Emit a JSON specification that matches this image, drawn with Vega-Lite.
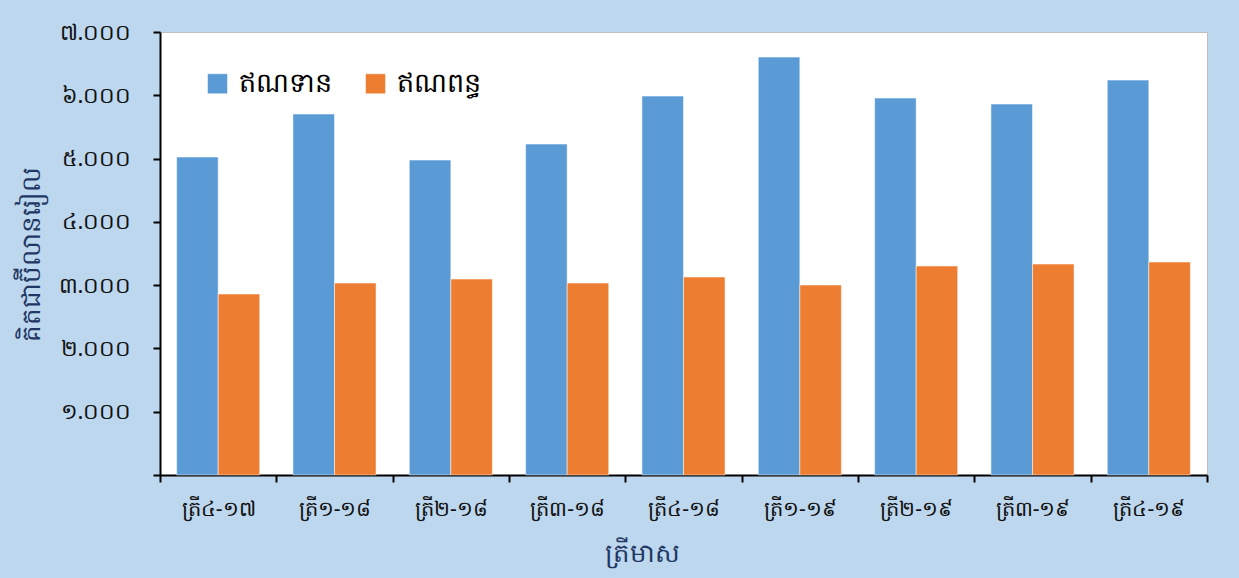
{
  "$schema": "https://vega.github.io/schema/vega-lite/v6.json",
  "autosize": "none",
  "width": 1047,
  "height": 443,
  "padding": {"left": 160, "top": 32, "right": 32, "bottom": 103},
  "background": "#BDD7EE",
  "data": {
    "values": [
      {"quarter": "ត្រី៤-១៧", "series": "ឥណទាន", "value": 5024},
      {"quarter": "ត្រី៤-១៧", "series": "ឥណពន្ធ", "value": 2860},
      {"quarter": "ត្រី១-១៨", "series": "ឥណទាន", "value": 5703},
      {"quarter": "ត្រី១-១៨", "series": "ឥណពន្ធ", "value": 3033},
      {"quarter": "ត្រី២-១៨", "series": "ឥណទាន", "value": 4976},
      {"quarter": "ត្រី២-១៨", "series": "ឥណពន្ធ", "value": 3096},
      {"quarter": "ត្រី៣-១៨", "series": "ឥណទាន", "value": 5229},
      {"quarter": "ត្រី៣-១៨", "series": "ឥណពន្ធ", "value": 3033},
      {"quarter": "ត្រី៤-១៨", "series": "ឥណទាន", "value": 5987},
      {"quarter": "ត្រី៤-១៨", "series": "ឥណពន្ធ", "value": 3128},
      {"quarter": "ត្រី១-១៩", "series": "ឥណទាន", "value": 6603},
      {"quarter": "ត្រី១-១៩", "series": "ឥណពន្ធ", "value": 3002},
      {"quarter": "ត្រី២-១៩", "series": "ឥណទាន", "value": 5956},
      {"quarter": "ត្រី២-១៩", "series": "ឥណពន្ធ", "value": 3302},
      {"quarter": "ត្រី៣-១៩", "series": "ឥណទាន", "value": 5861},
      {"quarter": "ត្រី៣-១៩", "series": "ឥណពន្ធ", "value": 3333},
      {"quarter": "ត្រី៤-១៩", "series": "ឥណទាន", "value": 6240},
      {"quarter": "ត្រី៤-១៩", "series": "ឥណពន្ធ", "value": 3365}
    ]
  },
  "mark": "bar",
  "encoding": {
    "x": {
      "field": "quarter",
      "type": "nominal",
      "sort": null,
      "title": "ត្រីមាស",
      "scale": {"paddingInner": 0, "paddingOuter": 0},
      "axis": {
        "tickBand": "extent",
        "labelAngle": 0,
        "labelPadding": 16,
        "labelFontSize": 21,
        "titleX": 482,
        "titleY": 78,
        "titleBaseline": "middle"
      }
    },
    "xOffset": {
      "field": "series",
      "type": "nominal",
      "sort": ["ឥណទាន", "ឥណពន្ធ"],
      "scale": {"paddingInner": 0, "paddingOuter": 0.4}
    },
    "y": {
      "field": "value",
      "type": "quantitative",
      "title": "គិតជាប៊ីលានរៀល",
      "scale": {"domain": [0, 7000]},
      "axis": {
        "values": [0, 1000, 2000, 3000, 4000, 5000, 6000, 7000],
        "grid": false,
        "labelPadding": 22,
        "labelFontSize": 22,
        "titlePadding": 14,
        "labelExpr": "['', '១.០០០', '២.០០០', '៣.០០០', '៤.០០០', '៥.០០០', '៦.០០០', '៧.០០០'][round(datum.value / 1000)]"
      }
    },
    "color": {
      "field": "series",
      "type": "nominal",
      "title": null,
      "scale": {"domain": ["ឥណទាន", "ឥណពន្ធ"], "range": ["#5B9BD5", "#ED7D31"]},
      "legend": {
        "orient": "none",
        "legendX": 44,
        "legendY": 38,
        "direction": "horizontal",
        "symbolType": "square",
        "symbolSize": 400,
        "symbolStrokeWidth": 0,
        "labelFontSize": 27,
        "labelColor": "#000000",
        "columnPadding": 30,
        "labelOffset": 8
      }
    }
  },
  "config": {
    "font": "Noto Sans",
    "view": {"stroke": "#BFBFBF", "fill": "#FFFFFF"},
    "axis": {
      "domainColor": "#000000",
      "domainWidth": 2,
      "tickColor": "#000000",
      "tickWidth": 2,
      "tickSize": 7,
      "labelColor": "#111111",
      "labelFont": "Noto Sans",
      "titleFontSize": 26,
      "titleFontWeight": "normal",
      "titleColor": "#1F3864",
      "titleFont": "Noto Sans"
    },
    "bar": {"stroke": "#FFFFFF", "strokeWidth": 0.5}
  }
}
